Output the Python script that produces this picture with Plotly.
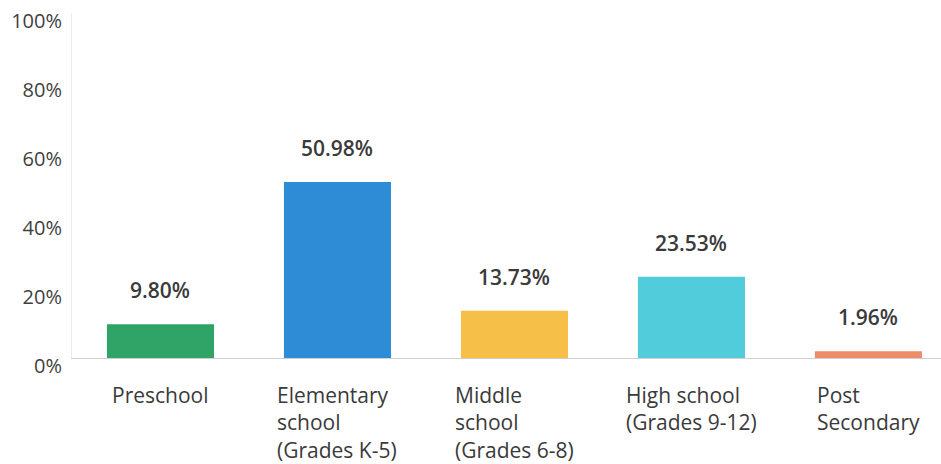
import plotly.graph_objects as go

categories = ["Preschool", "Elementary school (Grades K-5)", "Middle school (Grades 6-8)",
              "High school (Grades 9-12)", "Post Secondary"]
label_lines = [["Preschool"], ["Elementary", "school", "(Grades K-5)"],
               ["Middle", "school", "(Grades 6-8)"], ["High school", "(Grades 9-12)"],
               ["Post", "Secondary"]]
values = [9.80, 50.98, 13.73, 23.53, 1.96]
colors = ["#2FA466", "#2E8CD6", "#F6BF48", "#50CCDA", "#EE8C68"]
y_ticks = [0, 20, 40, 60, 80, 100]
y_tick_text = ["0%", "20%", "40%", "60%", "80%", "100%"]

FONT = "Open Sans"
xs = list(range(len(categories)))

fig = go.Figure(go.Bar(x=xs, y=values, marker=dict(color=colors, line=dict(width=0)),
                       width=0.605, hoverinfo="skip"))

ann = []
for i, v in enumerate(values):
    ann.append(dict(x=i, y=v, xref="x", yref="y", text=f"{v:.2f}%", showarrow=False,
                    yshift=34, yanchor="middle",
                    font=dict(family=FONT, size=21, weight=600, color="#3a3a3a")))
for i, lines in enumerate(label_lines):
    ann.append(dict(x=i, y=0, xref="x", yref="paper", text="<br>".join(lines),
                    showarrow=False, xanchor="center", yanchor="top", align="left",
                    yshift=-21, font=dict(family=FONT, size=21, color="#3a3a3a")))

fig.update_layout(
    width=941, height=464,
    margin=dict(l=72, r=0, t=13, b=106),
    paper_bgcolor="white", plot_bgcolor="white",
    showlegend=False,
    annotations=ann,
    xaxis=dict(range=[-0.5, 4.41], showticklabels=False, showgrid=False, zeroline=False,
               showline=True, linecolor="#d0d0d0", linewidth=1, ticks=""),
    yaxis=dict(range=[0, 100], tickvals=y_ticks, ticktext=y_tick_text, showgrid=False,
               zeroline=False, showline=True, linecolor="#ececec", linewidth=1,
               ticks="", ticklabelstandoff=5, ticklabelshift=8,
               tickfont=dict(family=FONT, size=20, color="#3f3f3f")),
)
fig.write_html("out.html", config={"displayModeBar": False},
               post_script="document.body.style.margin='0';")
